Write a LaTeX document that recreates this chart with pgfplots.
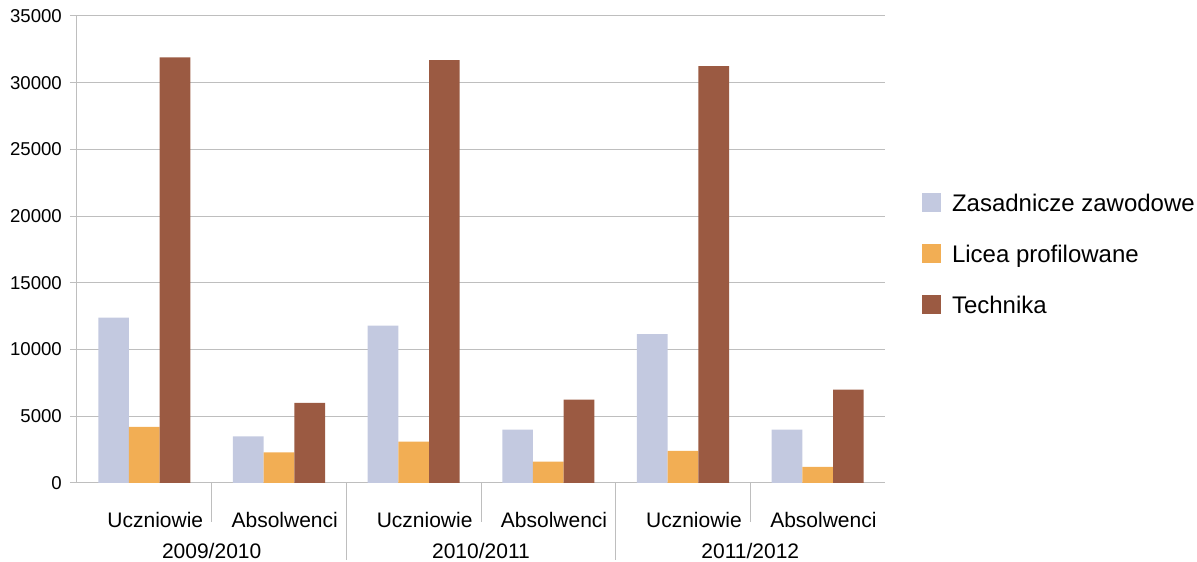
\documentclass[border=0pt]{standalone}
\usepackage{fontspec}
\setmainfont{Liberation Sans}
\usepackage{pgfplots}
\pgfplotsset{compat=1.18}
\definecolor{czas}{RGB}{195,201,224}
\definecolor{clic}{RGB}{242,174,84}
\definecolor{ctech}{RGB}{155,90,66}
\definecolor{gridc}{RGB}{190,190,190}
\begin{document}
\begin{tikzpicture}
\useasboundingbox (0,0) rectangle (1197pt,562pt);
\begin{axis}[
  at={(77pt,79pt)}, anchor=south west,
  scale only axis, width=808pt, height=467pt,
  clip=false,
  ybar=0pt, bar width=30.7pt,
  xmin=-0.5, xmax=5.5, ymin=0, ymax=35000,
  xtick={0,1,2,3,4,5},
  xticklabels={Uczniowie,Absolwenci,Uczniowie,Absolwenci,Uczniowie,Absolwenci},
  x tick label style={anchor=north east, xshift=59pt, yshift=-22pt, inner sep=0pt, font=\fontsize{21}{21}\selectfont},
  xtick style={/pgfplots/major tick length=0pt},
  ytick={0,5000,...,35000},
  scaled y ticks=false,
  y tick label style={/pgf/number format/1000 sep={}, /pgf/number format/assume math mode=true, font=\fontsize{18.6}{18.6}\selectfont, inner sep=0pt, xshift=-8pt},
  ytick style={draw=gridc, line width=1pt},
  tick align=outside, major tick length=7pt,
  ymajorgrids, grid style={draw=gridc, line width=1pt},
  axis x line*=bottom, axis y line*=left,
  axis line style={draw=gridc, line width=1pt, -},
  legend style={at={(rel axis cs:1.0458,0.6216)}, anchor=north west, draw=none, fill=none,
    inner sep=0pt, outer sep=0pt, row sep=27pt, column sep=11pt,
    font=\fontsize{24}{24}\selectfont,
    nodes={inner sep=0pt, text height=18pt, text depth=5pt, anchor=base west}},
  legend cell align=left,
  legend image code/.code={\fill[#1] (0pt,0pt) rectangle (19pt,19pt);},
]
\addplot[fill=czas, draw=none] coordinates {(0,12400) (1,3500) (2,11800) (3,4000) (4,11150) (5,4000)};
\addplot[fill=clic, draw=none] coordinates {(0,4200) (1,2300) (2,3100) (3,1600) (4,2400) (5,1200)};
\addplot[fill=ctech, draw=none] coordinates {(0,31900) (1,6000) (2,31700) (3,6250) (4,31250) (5,7000)};
\legend{Zasadnicze zawodowe,Licea profilowane,Technika}
\draw[gridc, line width=1pt] (axis cs:0.5,0) -- ++(0pt,-39pt);
\draw[gridc, line width=1pt] (axis cs:2.5,0) -- ++(0pt,-39pt);
\draw[gridc, line width=1pt] (axis cs:4.5,0) -- ++(0pt,-39pt);
\draw[gridc, line width=1pt] (axis cs:1.5,0) -- ++(0pt,-77pt);
\draw[gridc, line width=1pt] (axis cs:3.5,0) -- ++(0pt,-77pt);
\node[anchor=base, inner sep=0pt, font=\fontsize{21}{21}\selectfont] at ([yshift=-75pt]axis cs:0.5,0) {2009/2010};
\node[anchor=base, inner sep=0pt, font=\fontsize{21}{21}\selectfont] at ([yshift=-75pt]axis cs:2.5,0) {2010/2011};
\node[anchor=base, inner sep=0pt, font=\fontsize{21}{21}\selectfont] at ([yshift=-75pt]axis cs:4.5,0) {2011/2012};
\end{axis}
\end{tikzpicture}
\end{document}
